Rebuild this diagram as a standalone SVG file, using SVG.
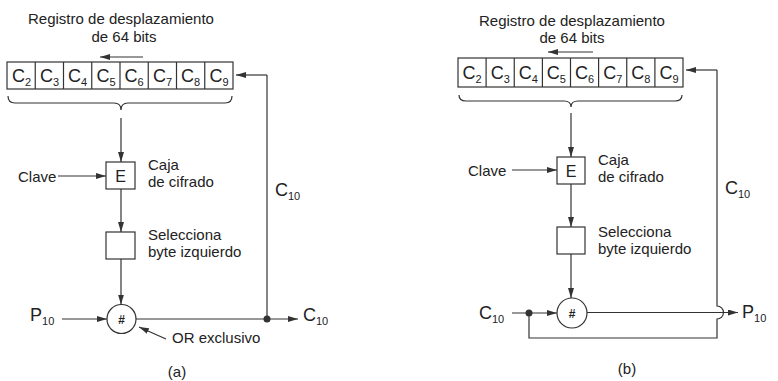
<svg xmlns="http://www.w3.org/2000/svg" width="778" height="381" viewBox="0 0 778 381">
<defs>
<style>
text{font-family:"Liberation Sans",Arial,sans-serif;font-size:15px;fill:#222}
.big{font-size:18px}
.sub{font-size:11px}
.mid{text-anchor:middle}
.ln{fill:none;stroke:#333;stroke-width:1.2}
.box{fill:#fff;stroke:#333;stroke-width:1.2}
.arr{fill:none;stroke:#333;stroke-width:1.2;marker-end:url(#ah)}
.hash{font-size:12px;font-weight:bold}
</style>
<marker id="ah" viewBox="0 0 10 6" refX="10" refY="3" markerWidth="10" markerHeight="6" markerUnits="userSpaceOnUse" orient="auto">
<path d="M0,0 L10,3 L0,6 Z" fill="#333"/>
</marker>
</defs>
<rect width="778" height="381" fill="#fff"/>

<!-- (a) -->
<g id="a-title">
<text x="121" y="24" class="mid">Registro de desplazamiento</text>
<text x="124" y="42" class="mid">de 64 bits</text>
</g>
<g id="a-register">
<rect x="7" y="62" width="226" height="27" class="box"/>
<path class="ln" d="M35.25,62V89M63.5,62V89M91.75,62V89M120,62V89M148.25,62V89M176.5,62V89M204.75,62V89"/>
<text x="21.5" y="82" class="mid big">C<tspan class="sub" dy="3.5">2</tspan></text>
<text x="49.5" y="82" class="mid big">C<tspan class="sub" dy="3.5">3</tspan></text>
<text x="77.5" y="82" class="mid big">C<tspan class="sub" dy="3.5">4</tspan></text>
<text x="106" y="82" class="mid big">C<tspan class="sub" dy="3.5">5</tspan></text>
<text x="134" y="82" class="mid big">C<tspan class="sub" dy="3.5">6</tspan></text>
<text x="162.5" y="82" class="mid big">C<tspan class="sub" dy="3.5">7</tspan></text>
<text x="190.5" y="82" class="mid big">C<tspan class="sub" dy="3.5">8</tspan></text>
<text x="219" y="82" class="mid big">C<tspan class="sub" dy="3.5">9</tspan></text>
</g>
<g id="a-encrypt">
<rect x="106" y="162" width="29" height="27" class="box"/>
<text x="120.5" y="181.5" class="mid" style="font-size:16px">E</text>
<text x="148" y="170">Caja</text>
<text x="148" y="187">de cifrado</text>
</g>
<g id="a-select">
<rect x="106" y="232" width="29" height="27" class="box"/>
<text x="148" y="240">Selecciona</text>
<text x="148" y="257">byte izquierdo</text>
</g>
<g id="a-xor">
<circle cx="121.5" cy="319" r="14.5" class="box"/>
<text x="121.5" y="323.5" class="mid hash">#</text>
<text x="172" y="343">OR exclusivo</text>
</g>
<g id="a-labels">
<text x="18" y="182">Clave</text>
<text x="30" y="321" class="big">P<tspan class="sub" dy="3.5">10</tspan></text>
<text x="303" y="321" class="big">C<tspan class="sub" dy="3.5">10</tspan></text>
<text x="275" y="196" class="big">C<tspan class="sub" dy="3.5">10</tspan></text>
<text x="177" y="377" class="mid">(a)</text>
</g>
<g id="a-connectors">
<path class="arr" d="M143,57H100"/>
<path class="ln" d="M8,96Q8,103 15,103H114Q121,103 121,110Q121,103 128,103H225Q232,103 232,96"/>
<path class="arr" d="M121,118V162"/>
<path class="arr" d="M58,176H106"/>
<path class="arr" d="M121,189V232"/>
<path class="arr" d="M121,259V304.5"/>
<path class="arr" d="M62,319H107"/>
<path class="arr" d="M136,319H298"/>
<path class="ln" d="M267,319V75"/>
<path class="arr" d="M267,75H236"/>
<circle cx="267" cy="319" r="3.5" fill="#333"/>
<path class="arr" d="M166,339L139,327"/>
</g>

<!-- (b) -->
<g id="b-title">
<text x="572" y="26" class="mid">Registro de desplazamiento</text>
<text x="572" y="43" class="mid">de 64 bits</text>
</g>
<g id="b-register">
<rect x="458" y="58" width="225" height="29" class="box"/>
<path class="ln" d="M486.1,58V87M514.25,58V87M542.4,58V87M570.5,58V87M598.6,58V87M626.75,58V87M654.9,58V87"/>
<text x="472" y="79" class="mid big">C<tspan class="sub" dy="3.5">2</tspan></text>
<text x="500.2" y="79" class="mid big">C<tspan class="sub" dy="3.5">3</tspan></text>
<text x="528.3" y="79" class="mid big">C<tspan class="sub" dy="3.5">4</tspan></text>
<text x="556.4" y="79" class="mid big">C<tspan class="sub" dy="3.5">5</tspan></text>
<text x="584.5" y="79" class="mid big">C<tspan class="sub" dy="3.5">6</tspan></text>
<text x="612.7" y="79" class="mid big">C<tspan class="sub" dy="3.5">7</tspan></text>
<text x="640.8" y="79" class="mid big">C<tspan class="sub" dy="3.5">8</tspan></text>
<text x="669" y="79" class="mid big">C<tspan class="sub" dy="3.5">9</tspan></text>
</g>
<g id="b-encrypt">
<rect x="557" y="157" width="28" height="27" class="box"/>
<text x="571" y="176.5" class="mid" style="font-size:16px">E</text>
<text x="598" y="165">Caja</text>
<text x="598" y="182">de cifrado</text>
</g>
<g id="b-select">
<rect x="557" y="227" width="28" height="27" class="box"/>
<text x="598" y="237">Selecciona</text>
<text x="598" y="254">byte izquierdo</text>
</g>
<g id="b-xor">
<circle cx="572" cy="313" r="15" class="box"/>
<text x="572" y="317.5" class="mid hash">#</text>
</g>
<g id="b-labels">
<text x="468" y="176">Clave</text>
<text x="479" y="319" class="big">C<tspan class="sub" dy="3.5">10</tspan></text>
<text x="742" y="318" class="big">P<tspan class="sub" dy="3.5">10</tspan></text>
<text x="725" y="194" class="big">C<tspan class="sub" dy="3.5">10</tspan></text>
<text x="627" y="374" class="mid">(b)</text>
</g>
<g id="b-connectors">
<path class="arr" d="M593,52H548"/>
<path class="ln" d="M459,95Q459,101 466,101H564Q571,101 571,107Q571,101 578,101H675Q682,101 682,95"/>
<path class="arr" d="M571,113V157"/>
<path class="arr" d="M512,170H557"/>
<path class="arr" d="M571,184V227"/>
<path class="arr" d="M571,254V298"/>
<path class="arr" d="M512,313H557"/>
<circle cx="529" cy="313" r="3.5" fill="#333"/>
<path class="arr" d="M587,312.5H738"/>
<path class="ln" d="M529,313V338H717V319A6.5,6.5 0 0 0 717,306V70"/>
<path class="arr" d="M717,70H686"/>
</g>
</svg>
